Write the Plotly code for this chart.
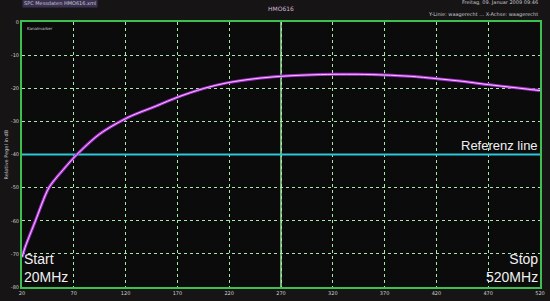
import plotly.graph_objects as go

freq_mhz = [20, 23, 26, 33, 46, 60, 73, 95, 123, 150, 171, 195, 219, 245, 270,
            295, 321, 345, 370, 395, 420, 445, 470, 495, 520]
level_db = [-71, -68, -65.5, -60, -50, -44.5, -40, -33.8, -28.7, -25.3, -22.6, -20.1,
            -18.3, -17.1, -16.4, -16, -15.8, -15.8, -16, -16.4, -17.1, -17.9, -18.9, -19.8, -20.7]
ref_level = -40
x_ticks = [20, 70, 120, 170, 220, 270, 320, 370, 420, 470, 520]
y_ticks = [0, -10, -20, -30, -40, -50, -60, -70, -80]

fig = go.Figure()
fig.add_trace(go.Scatter(x=[x_ticks[0], x_ticks[-1]], y=[ref_level, ref_level], mode="lines",
                         line=dict(color="#2fc6d8", width=2.2), hoverinfo="skip"))
fig.add_trace(go.Scatter(x=freq_mhz, y=level_db, mode="lines",
                         line=dict(color="#a830d0", width=3, shape="spline", smoothing=0.8)))
fig.add_trace(go.Scatter(x=freq_mhz, y=level_db, mode="lines",
                         line=dict(color="#f2c4ff", width=1, shape="spline", smoothing=0.8)))

fig.add_shape(type="line", xref="x", yref="paper", x0=x_ticks[5], x1=x_ticks[5], y0=0, y1=1,
              line=dict(color="#9ee6a0", width=1.5), layer="below")

fig.update_layout(
    width=550, height=301, margin=dict(l=22, r=5, t=22, b=9),
    paper_bgcolor="#161414", plot_bgcolor="#0b0b0b", showlegend=False,
    font=dict(family="DejaVu Sans", color="#e8e8e8"),
    xaxis=dict(range=[20, 520], tickvals=x_ticks, ticktext=[str(v) for v in x_ticks],
               showgrid=True, gridcolor="#a8e8a8", griddash="dot", gridwidth=1,
               showline=True, linecolor="#3cc050", linewidth=2, mirror=True,
               zeroline=False, tickfont=dict(size=5, color="#d0d0d0"), ticks=""),
    yaxis=dict(range=[-80, 0], tickvals=y_ticks, ticktext=[str(v) for v in y_ticks],
               showgrid=True, gridcolor="#a8e8a8", griddash="dot", gridwidth=1,
               showline=True, linecolor="#3cc050", linewidth=2, mirror=True,
               zeroline=False, tickfont=dict(size=5, color="#d0d0d0"), ticks=""),
    annotations=[
        dict(x=0, y=0, xref="paper", yref="paper", xanchor="left", yanchor="bottom",
             text="Start<br>20MHz", showarrow=False, align="left",
             font=dict(size=14, color="#f0f0f0", family="Liberation Sans")),
        dict(x=1, y=0, xref="paper", yref="paper", xanchor="right", yanchor="bottom",
             text="Stop<br>520MHz", showarrow=False, align="right",
             font=dict(size=14, color="#f0f0f0", family="Liberation Sans")),
        dict(x=1, y=ref_level, xref="paper", yref="y", xanchor="right", yanchor="bottom",
             text="Referenz line", showarrow=False,
             font=dict(size=13, color="#f0f0f0", family="Liberation Sans")),
        dict(x=0.5, y=1, xref="paper", yref="paper", yshift=8, xanchor="center", yanchor="bottom",
             text="HMO616", showarrow=False, font=dict(size=6, color="#d0b8d8")),
        dict(x=0, y=1, xref="paper", yref="paper", yshift=14, xanchor="left", yanchor="bottom",
             text="SPC Messdaten HMO616.xml", showarrow=False, font=dict(size=5, color="#c8c8d0"),
             bgcolor="#3a3050"),
        dict(x=0.005, y=1, xref="paper", yref="paper", yshift=-2, xanchor="left", yanchor="top",
             text="Kanalmarker", showarrow=False, font=dict(size=4, color="#c8c8d0")),
        dict(x=1, y=1, xref="paper", yref="paper", yshift=14, xanchor="right", yanchor="bottom",
             text="Freitag, 09. Januar 2009 09:46", showarrow=False, font=dict(size=5, color="#c8c8d0")),
        dict(x=1, y=1, xref="paper", yref="paper", yshift=2, xanchor="right", yanchor="bottom",
             text="Y-Linie: waagerecht ... X-Achse: waagerecht", showarrow=False,
             font=dict(size=5, color="#c8c8d0")),
        dict(x=0, y=0.5, xref="paper", yref="paper", xshift=-16, xanchor="center", yanchor="middle",
             text="Relative Pegel in dB", textangle=-90, showarrow=False,
             font=dict(size=5, color="#c8c8d0")),
    ],
)

fig.write_html("out.html")
